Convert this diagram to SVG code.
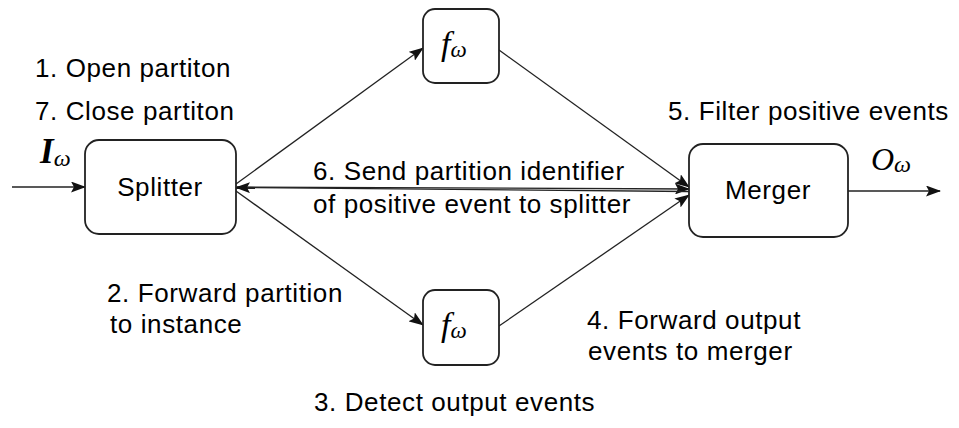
<svg xmlns="http://www.w3.org/2000/svg" width="959" height="428" viewBox="0 0 959 428">
<style>
.box{fill:#fff;stroke:#222;stroke-width:1.8}
.ln{stroke:#222;stroke-width:1.3;fill:none}
.t{font-family:"Liberation Sans",Arial,sans-serif;font-size:26px;letter-spacing:0.6px;fill:#000}
.m{font-family:"Liberation Serif","Times New Roman",serif;font-style:italic;fill:#000}
</style>
<defs>
<marker id="ah" viewBox="0 0 15 11" refX="14" refY="5.5" markerWidth="15" markerHeight="11" markerUnits="userSpaceOnUse" orient="auto">
<path d="M0,0 L15,5.5 L0,11 L3,5.5 z" fill="#111"/>
</marker>
</defs>
<g id="connectors">
<line class="ln" x1="12" y1="187" x2="85" y2="187" marker-end="url(#ah)"/>
<line class="ln" x1="848" y1="191" x2="940" y2="191" marker-end="url(#ah)"/>
<line class="ln" x1="236" y1="184" x2="423" y2="48" marker-end="url(#ah)"/>
<line class="ln" x1="236" y1="191" x2="423" y2="325" marker-end="url(#ah)"/>
<line class="ln" x1="499" y1="50" x2="689" y2="187" marker-end="url(#ah)"/>
<line class="ln" x1="499" y1="326" x2="689" y2="195" marker-end="url(#ah)"/>
<line class="ln" x1="237" y1="187" x2="689" y2="189" marker-end="url(#ah)"/>
<line class="ln" x1="689" y1="191.5" x2="236" y2="187.5" marker-end="url(#ah)"/>
</g>
<g id="splitter">
<rect class="box" x="85" y="140" width="151" height="94" rx="14"/>
<text class="t" x="160" y="196" text-anchor="middle">Splitter</text>
</g>
<g id="merger">
<rect class="box" x="689" y="144" width="159" height="93" rx="14"/>
<text class="t" x="768" y="199" text-anchor="middle">Merger</text>
</g>
<g id="f-top">
<rect class="box" x="423" y="9" width="76" height="74" rx="12"/>
<text class="m" x="441" y="55" font-size="34">f<tspan font-size="23" dy="2">ω</tspan></text>
</g>
<g id="f-bottom">
<rect class="box" x="423" y="290" width="76" height="75" rx="12"/>
<text class="m" x="441" y="336" font-size="34">f<tspan font-size="23" dy="2">ω</tspan></text>
</g>
<g id="labels">
<text class="m" x="40" y="163" font-size="35" font-weight="bold">I<tspan font-size="24" font-weight="normal" dy="3">ω</tspan></text>
<text class="m" x="871" y="170" font-size="32">O<tspan font-size="24" dy="2">ω</tspan></text>
<text class="t" x="35" y="77">1. Open partiton</text>
<text class="t" x="35" y="120">7. Close partiton</text>
<text class="t" x="668" y="120">5. Filter positive events</text>
<text class="t" x="313" y="180">6. Send partition identifier</text>
<text class="t" x="313" y="213">of positive event to splitter</text>
<text class="t" x="107" y="302">2. Forward partition</text>
<text class="t" x="110" y="333">to instance</text>
<text class="t" x="587" y="329">4. Forward output</text>
<text class="t" x="588" y="360">events to merger</text>
<text class="t" x="314" y="411">3. Detect output events</text>
</g>
</svg>
